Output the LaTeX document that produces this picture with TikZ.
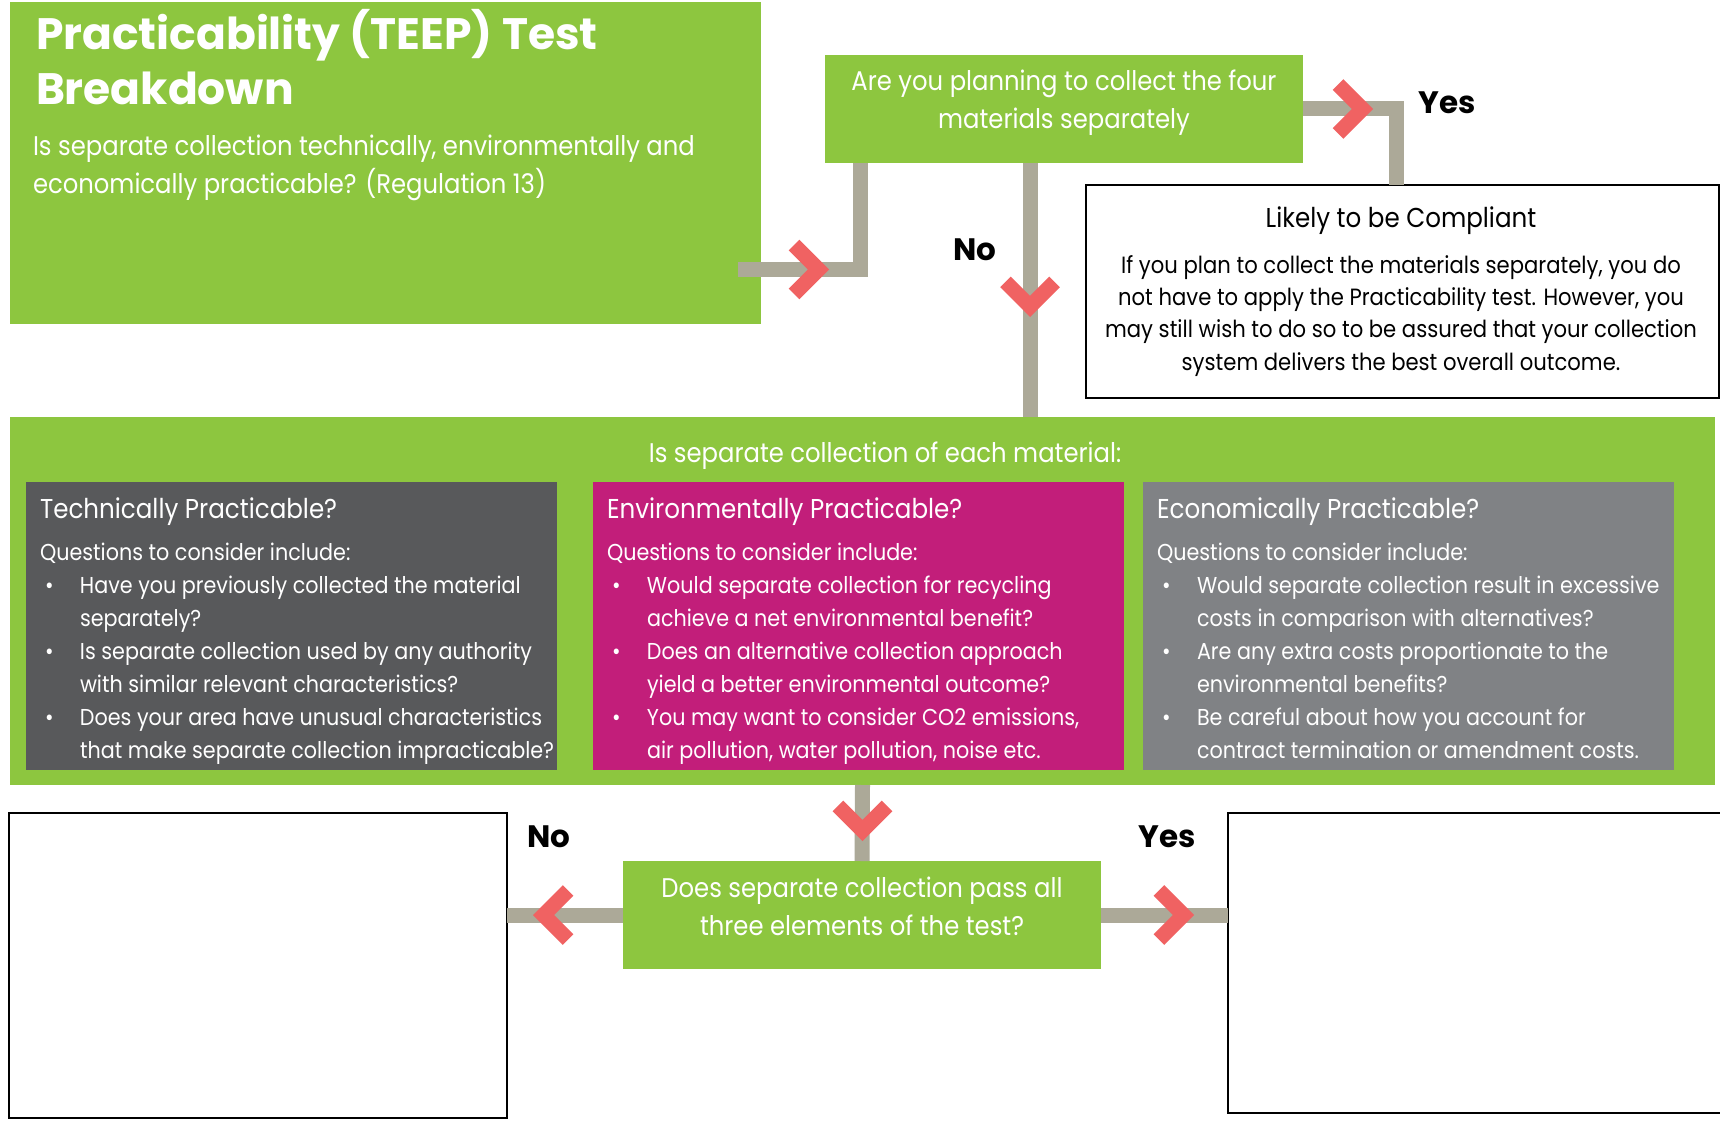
\documentclass[tikz,border=0pt]{standalone}
\usepackage{fontspec}
\setmainfont{Poppins}[FakeStretch=0.9]
\newfontfamily\heavyfont{Poppins}
\usetikzlibrary{positioning}
\definecolor{leaf}{RGB}{141,198,63}
\definecolor{slate}{RGB}{88,89,91}
\definecolor{berry}{RGB}{194,30,122}
\definecolor{ash}{RGB}{128,130,133}
\definecolor{rail}{RGB}{172,169,152}
\definecolor{coral}{RGB}{240,98,98}
\newcommand{\titlefont}{\heavyfont\fontsize{44}{55}\selectfont\bfseries}
\newcommand{\leadfont}{\fontsize{27}{38.5}\selectfont}
\newcommand{\headfont}{\fontsize{27.3}{32}\selectfont}
\newcommand{\smallfont}{\fontsize{23}{33}\selectfont}
\newcommand{\notefont}{\fontsize{23.5}{32.3}\selectfont}
\newcommand{\bitem}[2]{\hspace*{5pt}\makebox[35pt][l]{\textbullet}#1\\\hspace*{40pt}#2}
\tikzset{x=1pt, y=-1pt, inner sep=0pt, outer sep=0pt}
\tikzstyle{block} = [rectangle, fill=leaf, anchor=north west]
\tikzstyle{card} = [rectangle, anchor=north west, minimum width=531pt, minimum height=288pt]
\tikzstyle{blank} = [rectangle, draw=black, line width=2.5pt, fill=white, anchor=north west]
\tikzstyle{lefttext} = [text=white, align=left, anchor=base west]
\tikzstyle{midtext} = [text=white, align=center, anchor=base]
\tikzstyle{answer} = [font=\heavyfont\fontsize{31}{31}\selectfont\bfseries, anchor=center]
\tikzstyle{link} = [draw=rail, line width=15pt, line join=miter]
\tikzset{chevron/.pic={\draw[draw=coral, line width=15pt, line join=miter] (-24.5,-24.5) -- (0,0) -- (-24.5,24.5);}}

\begin{document}
\begin{tikzpicture}
    \path[fill=white, use as bounding box] (0,0) rectangle (1720,1121);

    % boxes
    \node [block, minimum width=751pt, minimum height=322pt] (intro) at (10,2) {};
    \node [block, minimum width=478pt, minimum height=108pt] (quest) at (825,55) {};
    \node [blank, minimum width=633pt, minimum height=213pt] (comply) at (1086,185) {};
    \node [block, minimum width=1705pt, minimum height=368pt] (band) at (10,417) {};
    \node [card, fill=slate] (tech) at (26,482) {};
    \node [card, fill=berry, right=36pt of tech] (env) {};
    \node [card, fill=ash, right=19pt of env] (econ) {};
    \node [block, minimum width=478pt, minimum height=108pt] (decide) at (623,861) {};
    \node [blank, minimum width=498pt, minimum height=305pt] (nobox) at (9,813) {};
    \node [blank, minimum width=500pt, minimum height=300pt] (yesbox) at (1228,813) {};

    % texts (anchored on the baseline of their last line)
    \node [lefttext, font=\titlefont] (introhead) at (36,105) {Practicability (TEEP) Test\\Breakdown};
    \node [lefttext, font=\leadfont] (introtext) at (33,193.5) {Is separate collection technically, environmentally and\\economically practicable? (Regulation 13)};
    \node [midtext, font=\leadfont] (questtext) at (1064,128.5) {Are you planning to collect the four\\materials separately};
    \node [midtext, font=\headfont, text=black] (complyhead) at (1401,227) {Likely to be Compliant};
    \node [midtext, font=\notefont, text=black] (complytext) at (1401,370) {If you plan to collect the materials separately, you do\\not have to apply the Practicability test. However, you\\may still wish to do so to be assured that your collection\\system delivers the best overall outcome.};
    \node [midtext, font=\leadfont] (bandtext) at (885,462) {Is separate collection of each material:};

    \node [lefttext, font=\headfont] (techhead) at ([shift={(14,36)}]tech.north west) {Technically Practicable?};
    \node [lefttext, font=\smallfont] (techtext) at ([shift={(14,276)}]tech.north west) {Questions to consider include:\\
        \bitem{Have you previously collected the material}{separately?}\\
        \bitem{Is separate collection used by any authority}{with similar relevant characteristics?}\\
        \bitem{Does your area have unusual characteristics}{that make separate collection impracticable?}};
    \node [lefttext, font=\headfont] (envhead) at ([shift={(14,36)}]env.north west) {Environmentally Practicable?};
    \node [lefttext, font=\smallfont] (envtext) at ([shift={(14,276)}]env.north west) {Questions to consider include:\\
        \bitem{Would separate collection for recycling}{achieve a net environmental benefit?}\\
        \bitem{Does an alternative collection approach}{yield a better environmental outcome?}\\
        \bitem{You may want to consider CO2 emissions,}{air pollution, water pollution, noise etc.}};
    \node [lefttext, font=\headfont] (econhead) at ([shift={(14,36)}]econ.north west) {Economically Practicable?};
    \node [lefttext, font=\smallfont] (econtext) at ([shift={(14,276)}]econ.north west) {Questions to consider include:\\
        \bitem{Would separate collection result in excessive}{costs in comparison with alternatives?}\\
        \bitem{Are any extra costs proportionate to the}{environmental benefits?}\\
        \bitem{Be careful about how you account for}{contract termination or amendment costs.}};
    \node [midtext, font=\leadfont] (decidetext) at (862,935.5) {Does separate collection pass all\\three elements of the test?};

    \node [answer] (yes1) at (1447,103) {Yes};
    \node [answer] (no1) at (975,250) {No};
    \node [answer] (no2) at (549,837) {No};
    \node [answer] (yes2) at (1167,837) {Yes};

    % connectors
    \coordinate (introout) at (738,269.5);
    \draw [link] (introout) -| ([xshift=35pt]quest.south west);
    \draw [link] (quest.east) -| ([xshift=-6pt]comply.north);
    \draw [link] ([xshift=-34pt]quest.south) -- ([xshift=-34pt]quest.south |- band.north);
    \draw [link] (band.south) -- (decide.north);
    \draw [link] (decide.west) -- (decide.west -| nobox.east);
    \draw [link] (decide.east) -- (decide.east -| yesbox.west);

    \pic at (818.5,269.5) {chevron};
    \pic at (1362.5,109) {chevron};
    \pic [rotate=-90] at (1030,306.4) {chevron};
    \pic [rotate=-90] at (862.5,830.4) {chevron};
    \pic [rotate=180] at (543.6,915) {chevron};
    \pic at (1183.4,915) {chevron};
\end{tikzpicture}
\end{document}
